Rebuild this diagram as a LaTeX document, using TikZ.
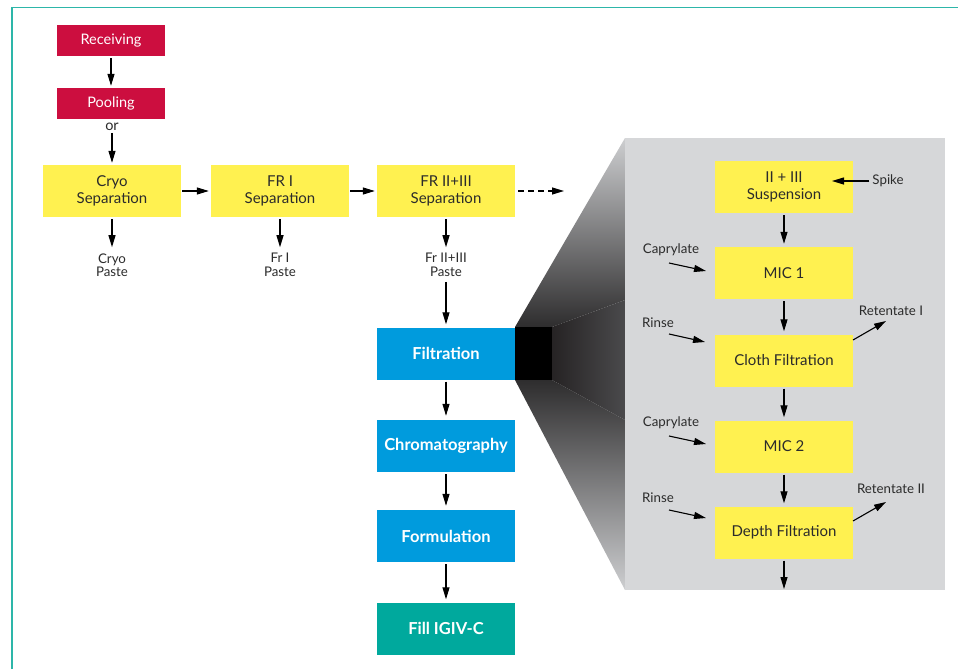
\documentclass[tikz,border=0pt]{standalone}
\usepackage{fontspec}
\setmainfont{Lato}
\usetikzlibrary{arrows.meta}
\definecolor{crim}{HTML}{CC0E3F}
\definecolor{yel}{HTML}{FFF150}
\definecolor{blu}{HTML}{009BDD}
\definecolor{tea}{HTML}{00A99D}
\definecolor{pan}{HTML}{D6D7D9}
\definecolor{pantop}{HTML}{CDCED0}
\definecolor{dk}{HTML}{2E2D2E}
\definecolor{dkb}{HTML}{262324}
\definecolor{midg}{HTML}{4A4A4C}
\definecolor{txt}{HTML}{2B2B2B}
\definecolor{framec}{HTML}{2DB6A9}
\begin{document}
\begin{tikzpicture}[x=1pt,y=-1pt,
  box/.style={rectangle, inner sep=0pt, minimum width=138pt, minimum height=52pt, align=center, font=\fontsize{15}{16.5}\selectfont, text=txt},
  redbox/.style={rectangle, fill=crim, minimum width=108pt, minimum height=31pt, inner sep=0pt, text=white, font=\fontsize{14.5}{16}\selectfont},
  yelbox/.style={box, fill=yel},
  blubox/.style={box, fill=blu, text=white, font=\bfseries\fontsize{16.5}{18}\selectfont},
  tealbox/.style={blubox, fill=tea},
  arr/.style={-{Triangle[length=12pt,width=7pt]}, line width=1.1pt, black},
  lbl/.style={font=\fontsize{13.3}{13.5}\selectfont, text=txt, inner sep=1pt, align=center},
]
\useasboundingbox (0,0) rectangle (958,669);
% frame
\draw[framec, line width=1.5pt] (12,669) -- (12,7.5) -- (958,7.5);
% zoom gradient
\shade[top color=pantop, bottom color=dk] (515,327) -- (625,138) -- (625,300) -- (552,327) -- cycle;
\shade[left color=dkb, right color=midg] (552,327) -- (625,300) -- (625,420) -- (552,380) -- cycle;
\shade[top color=dk, bottom color=pantop] (515,380) -- (552,380) -- (625,420) -- (625,590) -- cycle;
\fill[black] (515,327) rectangle (552,380);
\fill[pan] (625,138) rectangle (945,590);
% left chain
\node[redbox] (rec) at (111,40.5) {Receiving};
\node[redbox] (pool) at (111,103.5) {Pooling};
\node[lbl, font=\fontsize{14.5}{15}\selectfont] (or) at (112,127) {or};
\node[yelbox] (cryo) at (112,191) {Cryo\\Separation};
\node[yelbox] (fr1) at (280,191) {FR I\\Separation};
\node[yelbox] (fr23) at (446,191) {FR II+III\\Separation};
\node[lbl] (cp) at (112,265) {Cryo\\Paste};
\node[lbl] (fp) at (280,265) {Fr I\\Paste};
\node[lbl] (f23p) at (446,265) {Fr II+III\\Paste};
\node[blubox] (filt) at (446,353.5) {Filtration};
\node[blubox] (chrom) at (446,446) {Chromatography};
\node[blubox] (form) at (446,536) {Formulation};
\node[tealbox] (fill) at (446,628.5) {Fill IGIV-C};
\coordinate (dend) at (564,191);
\draw[arr, shorten <=2pt, shorten >=2pt] (rec) -- (pool);
\draw[arr, shorten <=1pt, shorten >=2pt] (or) -- (cryo);
\draw[arr, shorten <=1pt, shorten >=2pt] (cryo) -- (fr1);
\draw[arr, shorten <=1pt, shorten >=2pt] (fr1) -- (fr23);
\draw[arr, dashed, dash pattern=on 6pt off 4pt] (fr23.east) ++(3,0) -- (dend);
\draw[arr, shorten <=2pt, shorten >=5pt] (cryo) -- (cp);
\draw[arr, shorten <=2pt, shorten >=5pt] (fr1) -- (fp);
\draw[arr, shorten <=2pt, shorten >=5pt] (fr23) -- (f23p);
\draw[arr, shorten <=4pt, shorten >=3pt] (f23p) -- (filt);
\draw[arr, shorten <=2pt, shorten >=4pt] (filt) -- (chrom);
\draw[arr, shorten <=2pt, shorten >=4pt] (chrom) -- (form);
\draw[arr, shorten <=2pt, shorten >=3pt] (form) -- (fill);
% right panel
\node[yelbox] (susp) at (784,187) {II + III\\Suspension};
\node[yelbox] (mic1) at (784,273) {MIC 1};
\node[yelbox] (cloth) at (784,360.5) {Cloth Filtration};
\node[yelbox] (mic2) at (784,446.5) {MIC 2};
\node[yelbox] (depth) at (784,532.5) {Depth Filtration};
\node[lbl] (spike) at (888,181) {Spike};
\node[lbl] (cap1) at (671,250) {Caprylate};
\node[lbl] (rin1) at (658,323) {Rinse};
\node[lbl] (ret1) at (891,311) {Retentate I};
\node[lbl] (cap2) at (671,423) {Caprylate};
\node[lbl] (rin2) at (658,498) {Rinse};
\node[lbl] (ret2) at (891,489) {Retentate II};
\coordinate (spk) at (832,181);
\coordinate (c1a) at (669,263); \coordinate (c1b) at (706,271);
\coordinate (r1a) at (669,334); \coordinate (r1b) at (705,342);
\coordinate (t1a) at (853,340); \coordinate (t1b) at (886,321);
\coordinate (c2a) at (669,436); \coordinate (c2b) at (706,444);
\coordinate (r2a) at (669,510); \coordinate (r2b) at (706,518);
\coordinate (t2a) at (853,521); \coordinate (t2b) at (886,502);
\coordinate (dout) at (784,589);
\draw[arr, shorten <=2pt] (spike.west) -- (spk);
\draw[arr, shorten <=2pt, shorten >=3pt] (susp) -- (mic1);
\draw[arr, shorten <=2pt, shorten >=3pt] (mic1) -- (cloth);
\draw[arr, shorten <=2pt, shorten >=3pt] (cloth) -- (mic2);
\draw[arr, shorten <=2pt, shorten >=3pt] (mic2) -- (depth);
\draw[arr, shorten <=2pt] (depth) -- (dout);
\draw[arr] (c1a) -- (c1b);
\draw[arr] (r1a) -- (r1b);
\draw[arr] (t1a) -- (t1b);
\draw[arr] (c2a) -- (c2b);
\draw[arr] (r2a) -- (r2b);
\draw[arr] (t2a) -- (t2b);
\end{tikzpicture}
\end{document}
